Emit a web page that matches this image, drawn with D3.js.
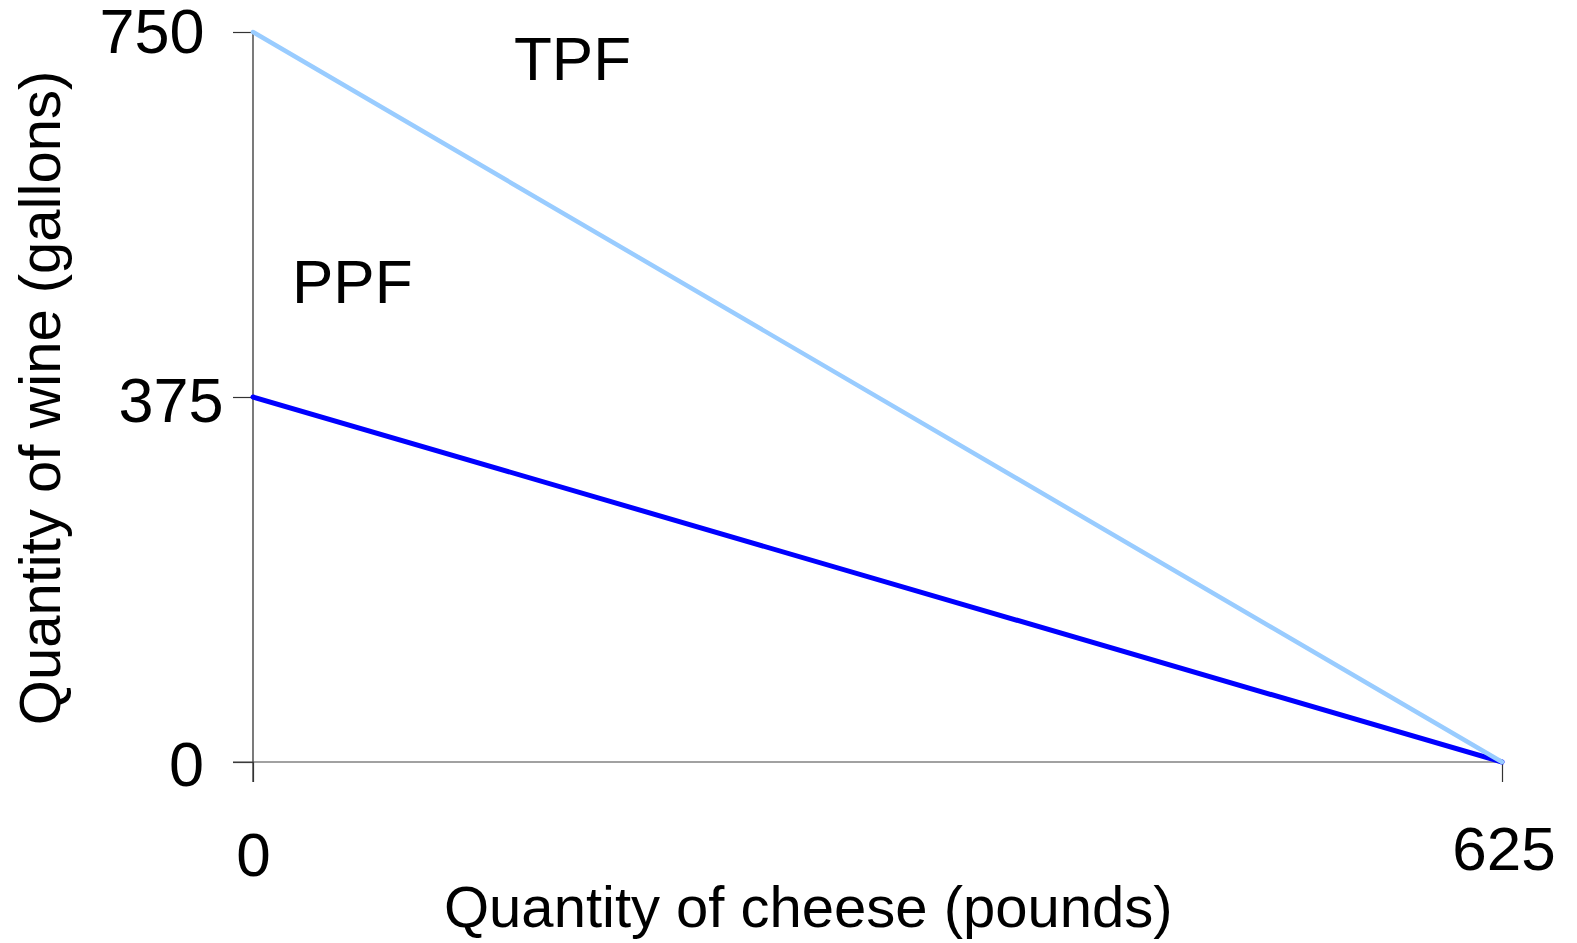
<!DOCTYPE html>
<html>
<head>
<meta charset="utf-8">
<script src="https://cdn.jsdelivr.net/npm/d3@7"></script>
<style>
  html, body { margin: 0; padding: 0; background: #fff; }
  svg { display: block; font-family: "Liberation Sans", Arial, sans-serif; }
</style>
</head>
<body>
<svg id="chart" width="1577" height="943"></svg>
<script>
// ---- data ----
const cheese = [0, 625];
const tpfWine = [750, 0];
const ppfWine = [375, 0];
const xTicks = [0, 625];
const yTicks = [0, 375, 750];
const xTickLabels = ["0", "625"];
const yTickLabels = ["0", "375", "750"];
const seriesNames = ["PPF", "TPF"];
const xTitle = "Quantity of cheese (pounds)";
const yTitle = "Quantity of wine (gallons)";

// ---- layout (not data) ----
const layout = {
  x0: 253, x1: 1502, y0: 762, y1: 32,
  yLabelDx: [-49, -29.5, -48.5],   // relative to axis x, text-anchor end
  yLabelDy: [24, 25, 21],
  xLabelDx: [0.5, 2],
  xLabelDy: [114, 108],
  seriesLabelPos: [[292, 303], [514, 80]]
};

const svg = d3.select("#chart");
const x = d3.scaleLinear().domain([0, 625]).range([layout.x0, layout.x1]);
const y = d3.scaleLinear().domain([0, 750]).range([layout.y0, layout.y1]);

// y axis line + ticks
const yAxis = d3.axisLeft(y).tickValues(yTicks).tickSize(20).tickSizeOuter(0).tickFormat("");
const gy = svg.append("g").attr("transform", `translate(${layout.x0},0)`).call(yAxis);
gy.select(".domain").remove();
gy.selectAll(".tick line").attr("stroke", "#333").attr("stroke-width", 1.2);
svg.append("line")
  .attr("x1", layout.x0).attr("x2", layout.x0)
  .attr("y1", y(750)).attr("y2", y(0) + 20)
  .attr("stroke", "#222").attr("stroke-width", 1.2);

// x axis line + ticks
const xAxis = d3.axisBottom(x).tickValues(xTicks).tickSize(20).tickSizeOuter(0).tickFormat("");
const gx = svg.append("g").attr("transform", `translate(0,${layout.y0})`).call(xAxis);
gx.select(".domain").remove();
gx.selectAll(".tick line").attr("stroke", "#333").attr("stroke-width", 1.2);
svg.append("line")
  .attr("x1", layout.x0 - 20).attr("x2", x(625))
  .attr("y1", layout.y0).attr("y2", layout.y0)
  .attr("stroke", "#444").attr("stroke-width", 1.2);

// tick labels
svg.selectAll("text.ylab").data(yTicks).enter().append("text")
  .attr("class", "ylab")
  .attr("x", (d, i) => layout.x0 + layout.yLabelDx[i])
  .attr("y", (d, i) => y(d) + layout.yLabelDy[i])
  .attr("text-anchor", "end")
  .attr("font-size", 63)
  .attr("fill", "#000")
  .text((d, i) => yTickLabels[i]);

svg.selectAll("text.xlab").data(xTicks).enter().append("text")
  .attr("class", "xlab")
  .attr("x", (d, i) => x(d) + layout.xLabelDx[i])
  .attr("y", (d, i) => layout.y0 + layout.xLabelDy[i])
  .attr("text-anchor", "middle")
  .attr("font-size", 62)
  .attr("fill", "#000")
  .text((d, i) => xTickLabels[i]);

// lines
const line = d3.line().x(d => x(d[0])).y(d => y(d[1]));
const ppf = cheese.map((c, i) => [c, ppfWine[i]]);
const tpf = cheese.map((c, i) => [c, tpfWine[i]]);

svg.append("path").datum(ppf)
  .attr("d", line).attr("fill", "none")
  .attr("stroke", "#0000ff").attr("stroke-width", 5).attr("stroke-linecap", "round");
svg.append("path").datum(tpf)
  .attr("d", line).attr("fill", "none")
  .attr("stroke", "#99ccff").attr("stroke-width", 4.5).attr("stroke-linecap", "round");

// series labels
svg.selectAll("text.slab").data(seriesNames).enter().append("text")
  .attr("class", "slab")
  .attr("x", (d, i) => layout.seriesLabelPos[i][0])
  .attr("y", (d, i) => layout.seriesLabelPos[i][1])
  .attr("font-size", 62)
  .attr("fill", "#000")
  .text(d => d);

// axis titles
svg.append("text")
  .attr("x", 444).attr("y", 927)
  .attr("font-size", 58)
  .attr("fill", "#000")
  .text(xTitle);

svg.append("text")
  .attr("transform", "translate(60,398) rotate(-90)")
  .attr("text-anchor", "middle")
  .attr("font-size", 58)
  .attr("fill", "#000")
  .text(yTitle);
</script>
</body>
</html>
